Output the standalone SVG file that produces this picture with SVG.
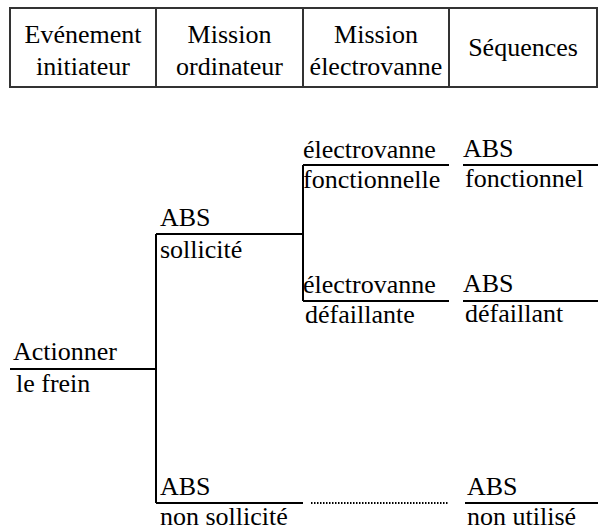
<svg xmlns="http://www.w3.org/2000/svg" width="598" height="532" viewBox="0 0 598 532">
<style>
text{font-family:'Liberation Serif',Tinos,'Times New Roman',Times,serif;font-size:26px;fill:#000}
.h{text-anchor:middle}
.cell{fill:#fff;stroke:#333;stroke-width:2}
.ln{stroke:#000;stroke-width:2;fill:none}
.dot{stroke:#000;stroke-width:2;stroke-dasharray:1.5 1.5;fill:none}
</style>
<rect width="598" height="532" fill="#fff"/>
<g id="header">
<g id="h1"><rect class="cell" x="10" y="8" width="146" height="79"/><text class="h" x="83" y="43">Evénement</text><text class="h" x="83" y="75">initiateur</text></g>
<g id="h2"><rect class="cell" x="156" y="8" width="147" height="79"/><text class="h" x="229.5" y="43">Mission</text><text class="h" x="229.5" y="75">ordinateur</text></g>
<g id="h3"><rect class="cell" x="303" y="8" width="146" height="79"/><text class="h" x="376" y="43">Mission</text><text class="h" x="376" y="75">électrovanne</text></g>
<g id="h4"><rect class="cell" x="449" y="8" width="148" height="79"/><text class="h" x="523" y="56">Séquences</text></g>
</g>
<g id="connectors">
<path class="ln" d="M10 369H156M156 234V503M156 234H303M156 503H303M303 165V301M303 165H449M303 301H449M463 165H598M463 301H598M465 503H598"/>
<path class="dot" d="M311 503H448"/>
</g>
<g id="n-actionner"><text x="13" y="360">Actionner</text><text x="16" y="392">le frein</text></g>
<g id="n-abs-sollicite"><text x="160" y="226">ABS</text><text x="160" y="258">sollicité</text></g>
<g id="n-abs-non-sollicite"><text x="160" y="495">ABS</text><text x="160" y="525">non sollicité</text></g>
<g id="n-ev-fonct"><text x="303" y="158">électrovanne</text><text x="303" y="188">fonctionnelle</text></g>
<g id="n-ev-def"><text x="303" y="293">électrovanne</text><text x="305" y="323">défaillante</text></g>
<g id="n-abs-fonct"><text x="463" y="157">ABS</text><text x="465" y="187">fonctionnel</text></g>
<g id="n-abs-def"><text x="463" y="292">ABS</text><text x="465" y="322">défaillant</text></g>
<g id="n-abs-non-utilise"><text x="467" y="495">ABS</text><text x="467" y="525">non utilisé</text></g>
</svg>
